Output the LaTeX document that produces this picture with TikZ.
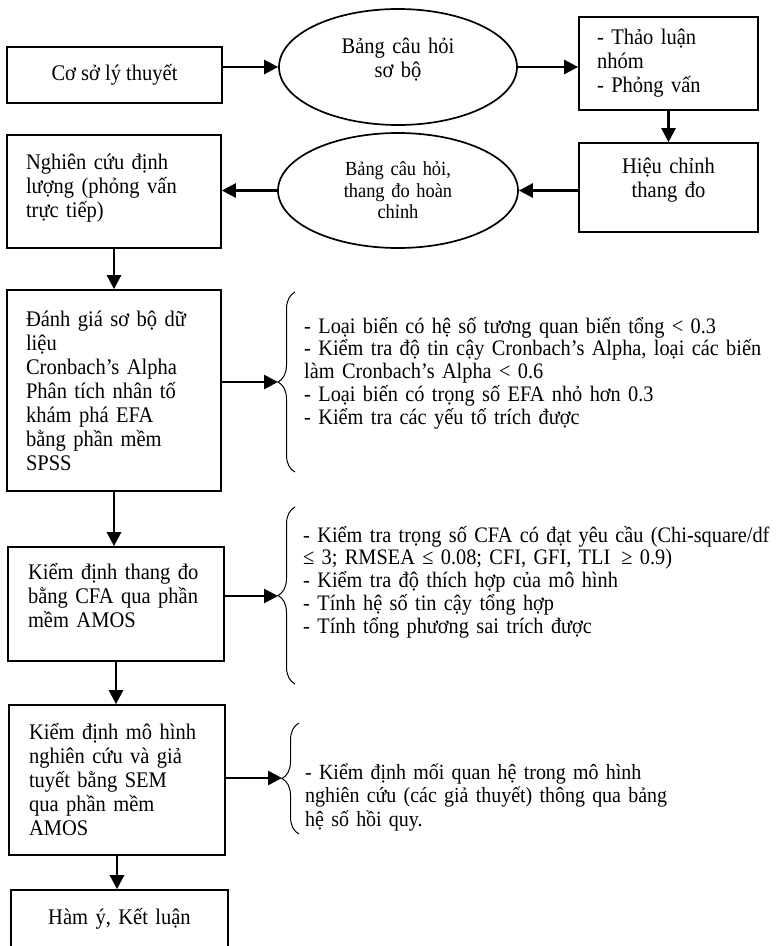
\documentclass[tikz,border=0pt]{standalone}
\usepackage{fontspec}
\setmainfont{Liberation Serif}[FakeStretch=0.92]
\usetikzlibrary{arrows.meta,shapes.geometric,decorations.pathreplacing}

\newcommand{\lift}[1]{\par\nointerlineskip\vspace{#1}\hbox{}}%pushes the text up in its box

\begin{document}
\begin{tikzpicture}[x=1pt,y=-1pt,
    box/.style={draw,line width=1.7pt,inner sep=0pt,font=\fontsize{22.3}{24}\selectfont},%boxes of the flow
    oval/.style={draw,ellipse,line width=1.7pt,inner sep=0pt,align=center},
    arr/.style={line width=2.6pt,-{Triangle[length=14pt,width=14pt]}},%thick arrows, filled heads
    brc/.style={decorate,decoration={brace,amplitude=17pt},line width=1pt},
    note/.style={anchor=base west,inner sep=0pt,text width=480pt,align=left,font=\fontsize{22.1}{22.8}\selectfont}
    ]
\useasboundingbox (0,0) rectangle (776,946);
\clip (0,0) rectangle (776,946);
% top row
\node[box,minimum width=215,minimum height=56,align=center] (cslt) at (114.5,75) {Cơ sở lý thuyết};
\node[oval,minimum width=238,minimum height=116,text width=160,font=\fontsize{22.3}{24}\selectfont] (bch1) at (398,67)
    {Bảng câu hỏi\\ sơ bộ\lift{14pt}};
\node[box,minimum width=179,minimum height=93,text width=143,align=left] (tln) at (668.5,63.5)
    {- Thảo luận\\ nhóm\\ - Phỏng vấn};
% second row
\node[box,minimum width=179,minimum height=89,text width=150,align=center] (hct) at (668.5,187.5)
    {Hiệu chỉnh\\ thang đo\lift{14pt}};
\node[oval,minimum width=240,minimum height=115,text width=150,font=\fontsize{20}{21.5}\selectfont] (bch2) at (398,190.5)
    {Bảng câu hỏi,\\ thang đo hoàn\\ chỉnh};
\node[box,minimum width=214,minimum height=113,text width=176,align=left] (ncdl) at (114,191.5)
    {Nghiên cứu định\\ lượng (phỏng vấn\\ trực tiếp)\lift{6pt}};
% left column
\node[box,minimum width=214,minimum height=201,text width=176,align=left] (dgsb) at (114,390.5)
    {Đánh giá sơ bộ dữ\\ liệu\\ Cronbach’s Alpha\\ Phân tích nhân tố\\ khám phá EFA\\ bằng phần mềm\\ SPSS};
\node[box,minimum width=216,minimum height=114,text width=176,align=left] (kdtd) at (116,604)
    {Kiểm định thang đo\\ bằng CFA qua phần\\ mềm AMOS\lift{16pt}};
\node[box,minimum width=216,minimum height=150,text width=176,align=left] (kdmh) at (117,780)
    {Kiểm định mô hình\\ nghiên cứu và giả\\ tuyết bằng SEM\\ qua phần mềm\\ AMOS};
\node[box,minimum width=217,minimum height=80,text width=190,align=center] (hykl) at (119.5,930)
    {Hàm ý, Kết luận\lift{22pt}};
% braces and their notes
\draw[brc] (295,472) -- (295,292);
\draw[brc] (295,684) -- (295,507);
\draw[brc] (299,834) -- (299,723);
\coordinate (b1) at (278,382);
\coordinate (b2) at (278,596);
\coordinate (b3) at (282,778);
\node[note] (n1) at (304,333) {- Loại biến có hệ số tương quan biến tổng < 0.3\\
    - Kiểm tra độ tin cậy Cronbach’s Alpha, loại các biến\\ làm Cronbach’s Alpha < 0.6\\
    - Loại biến có trọng số EFA nhỏ hơn 0.3\\ - Kiểm tra các yếu tố trích được};
\node[note] (n2) at (303,542) {- Kiểm tra trọng số CFA có đạt yêu cầu (Chi-square/df\\
    ≤ 3; RMSEA ≤ 0.08; CFI, GFI, TLI\,~≥ 0.9)\\ - Kiểm tra độ thích hợp của mô hình\\
    - Tính hệ số tin cậy tổng hợp\\ - Tính tổng phương sai trích được};
\node[note,font=\fontsize{21.7}{23.5}\selectfont] (n3) at (305,779) {- Kiểm định mối quan hệ trong mô hình\\
    nghiên cứu (các giả thuyết) thông qua bảng\\ hệ số hồi quy.};
% arrows
\draw[arr] (cslt.east |- bch1.west) -- (bch1.west);
\draw[arr] (bch1.east) -- (bch1.east -| tln.west);
\draw[arr] (tln.south) -- (hct.north);
\draw[arr] (hct.west |- bch2.east) -- (bch2.east);
\draw[arr] (bch2.west) -- (bch2.west -| ncdl.east);
\draw[arr] (ncdl.south) -- (dgsb.north);
\draw[arr] (dgsb.south) -- (dgsb.south |- kdtd.north);
\draw[arr] (kdtd.south) -- (kdtd.south |- kdmh.north);
\draw[arr] (kdmh.south) -- (kdmh.south |- hykl.north);
\draw[arr] (dgsb.east |- b1) -- (b1);
\draw[arr] (kdtd.east |- b2) -- (b2);
\draw[arr] (kdmh.east |- b3) -- (b3);
\end{tikzpicture}
\end{document}
